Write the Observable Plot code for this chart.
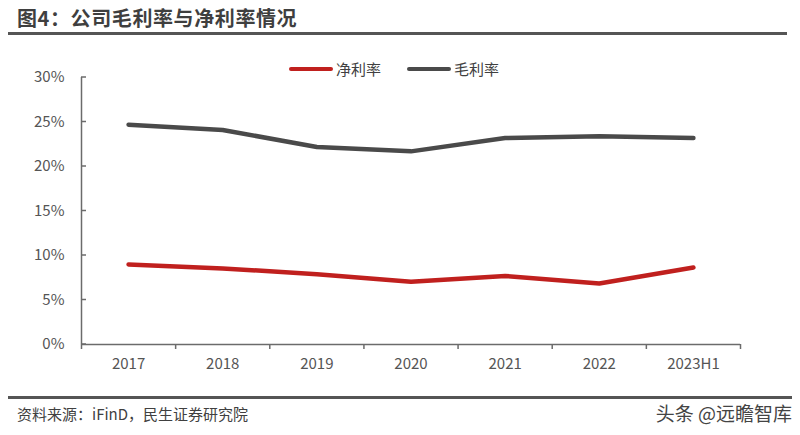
<!DOCTYPE html>
<html>
<head>
<meta charset="utf-8">
<script src="https://cdn.jsdelivr.net/npm/d3@7"></script>
<script src="https://cdn.jsdelivr.net/npm/@observablehq/plot@0.6"></script>
<style>
  html, body { margin: 0; padding: 0; background: #fff; }
  body { width: 800px; height: 435px; position: relative; overflow: hidden; font-family: "Noto Sans CJK SC", "Noto Sans", sans-serif; }
  #title { position: absolute; left: 17px; top: 3px; font-size: 20px; font-weight: bold; color: #3f3f3f; letter-spacing: 0.6px; }
  #topline { position: absolute; left: 8px; top: 32px; width: 779px; height: 3px; background: #555; }
  #botline { position: absolute; left: 8px; top: 396px; width: 784px; height: 3px; background: #555; }
  #source { position: absolute; left: 17px; top: 403px; font-size: 15px; color: #404040; }
  #mark { position: absolute; right: 8px; top: 399px; font-size: 19px; color: #444; }
  #chart { position: absolute; left: 0; top: 40px; }
  #legend { position: absolute; top: 58px; left: 289px; font-size: 15px; color: #404040; display: flex; align-items: center; }
  .sw { display: inline-block; width: 44px; height: 4px; border-radius: 2px; margin-right: 3px; }
  .item { display: flex; align-items: center; margin-right: 26px; }
</style>
</head>
<body>
<div id="title">图4：公司毛利率与净利率情况</div>
<div id="topline"></div>
<div id="legend"></div>
<div id="chart"></div>
<div id="botline"></div>
<div id="source">资料来源：iFinD，民生证券研究院</div>
<div id="mark">头条 @远瞻智库</div>
<script>
const years = ["2017", "2018", "2019", "2020", "2021", "2022", "2023H1"];
const netMargin = [9.0, 8.55, 7.9, 7.05, 7.7, 6.85, 8.65];
const grossMargin = [24.7, 24.1, 22.2, 21.7, 23.2, 23.4, 23.2];
const seriesNames = ["净利率", "毛利率"];
const seriesColors = ["#c0201e", "#4a4a4a"];
const yTicks = [0, 5, 10, 15, 20, 25, 30];

const rows = [];
years.forEach((y, i) => {
  rows.push({series: seriesNames[0], i: i + 0.5, year: y, v: netMargin[i]});
  rows.push({series: seriesNames[1], i: i + 0.5, year: y, v: grossMargin[i]});
});

const axisColor = "#6b6b6b";
const chart = Plot.plot({
  width: 800,
  height: 355,
  marginLeft: 81,
  marginRight: 60,
  marginTop: 37,
  marginBottom: 51,
  style: {fontFamily: "'Noto Sans CJK SC', sans-serif", fontSize: "14px", color: "#555", background: "transparent"},
  x: {type: "linear", domain: [0, years.length], label: null},
  y: {domain: [0, 30], label: null},
  color: {domain: seriesNames, range: seriesColors},
  marks: [
    Plot.axisY({ticks: yTicks, tickFormat: d => d + "%", tickSize: 0, tickPadding: 17, fontSize: 15, fill: "#555", label: null}),
    Plot.axisX({ticks: d3.range(years.length + 1), tickFormat: () => "", tickSize: 5, stroke: axisColor, strokeWidth: 1.5, label: null}),
    Plot.axisX({ticks: years.map((_, i) => i + 0.5), tickFormat: (d) => years[Math.floor(d)], tickSize: 0, tickPadding: 14, fontSize: 15, fill: "#555", label: null}),
    Plot.ruleY([0], {stroke: axisColor, strokeWidth: 1.5}),
    Plot.ruleX([0], {stroke: axisColor, strokeWidth: 1.5}),
    Plot.line(rows, {x: "i", y: "v", z: "series", stroke: "series", strokeWidth: 4.5, curve: "linear", strokeLinecap: "round", strokeLinejoin: "round"})
  ]
});
document.getElementById("chart").appendChild(chart);

// inward y ticks placed with the chart's own scales
const svg = d3.select(chart);
const ys = chart.scale("y"), xs = chart.scale("x");
const x0 = xs.apply(0);
const g = svg.append("g");
yTicks.forEach(t => {
  g.append("line").attr("x1", x0).attr("x2", x0 + 5).attr("y1", ys.apply(t)).attr("y2", ys.apply(t)).attr("stroke", axisColor).attr("stroke-width", 1.5);
});

const legend = document.getElementById("legend");
seriesNames.forEach((n, k) => {
  const it = document.createElement("span");
  it.className = "item";
  it.innerHTML = `<span class="sw" style="background:${seriesColors[k]}"></span>${n}`;
  legend.appendChild(it);
});
</script>
</body>
</html>
